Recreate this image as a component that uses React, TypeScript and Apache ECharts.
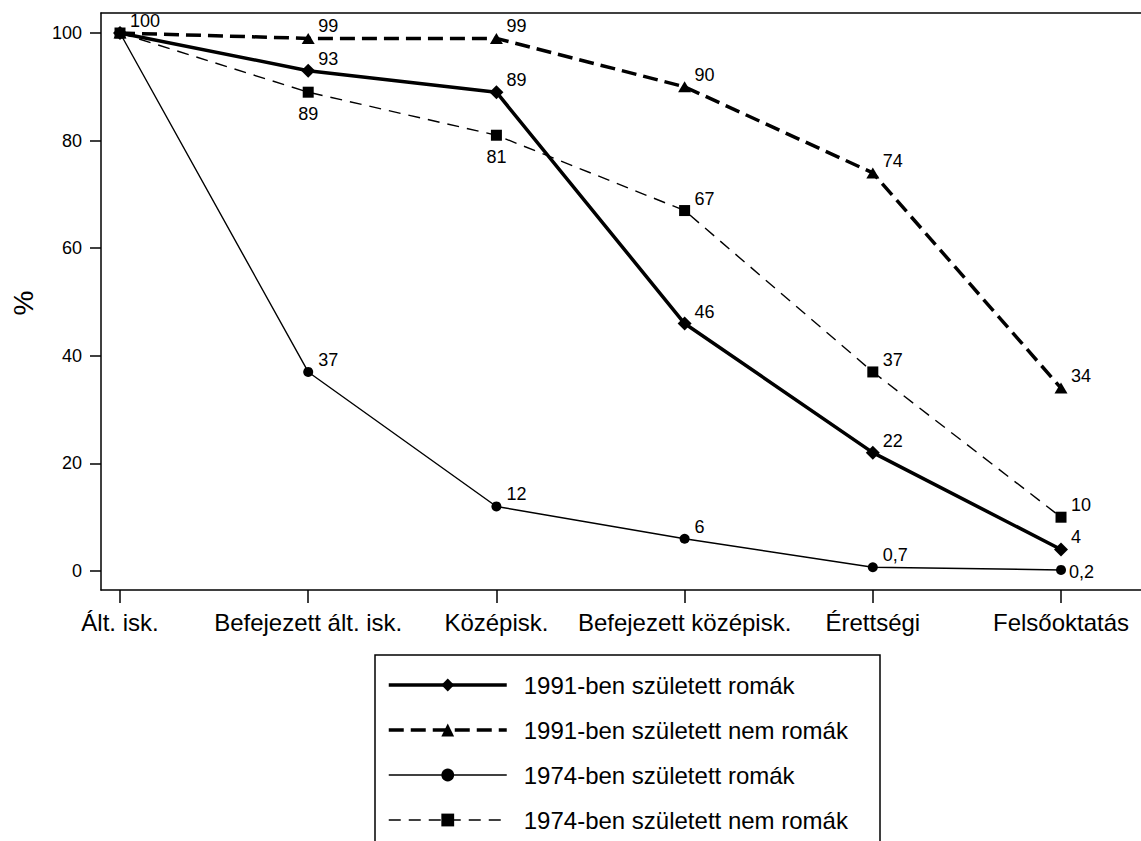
import React, { useEffect, useRef } from "react";
import * as echarts from "echarts";

const categories = ["Ált. isk.", "Befejezett ált. isk.", "Középisk.", "Befejezett középisk.", "Érettségi", "Felsőoktatás"];
const roma1991 = [100, 93, 89, 46, 22, 4];
const nonRoma1991 = [100, 99, 99, 90, 74, 34];
const roma1974 = [100, 37, 12, 6, 0.7, 0.2];
const nonRoma1974 = [100, 89, 81, 67, 37, 10];
const yTicks = [0, 20, 40, 60, 80, 100];
const seriesNames = [
  "1991-ben született romák",
  "1991-ben született nem romák",
  "1974-ben született romák",
  "1974-ben született nem romák",
];

const FONT = "Arial, 'Liberation Sans', Helvetica, sans-serif";

const STYLES = [
  { symbol: "diamond", size: 14 as any, width: 3.5, type: "solid" as any },
  { symbol: "triangle", size: [13, 11] as any, width: 3.5, type: [15, 7] as any },
  { symbol: "circle", size: 10 as any, width: 1.4, type: "solid" as any },
  { symbol: "rect", size: 11 as any, width: 1.4, type: [12, 8] as any },
];

function fmt(v: number) {
  return String(v).replace(".", ",");
}

function buildData(values: number[], opts: { hide?: number[]; below?: number[]; right?: number[] }) {
  return values.map((v, i) => {
    const item: any = { value: [i, v] };
    if (opts.hide && opts.hide.includes(i)) {
      item.label = { show: false };
    } else if (opts.below && opts.below.includes(i)) {
      item.label = { show: true, align: "center", offset: [0, 22] };
    } else if (opts.right && opts.right.includes(i)) {
      item.label = { show: true, align: "left", offset: [8, 2] };
    }
    return item;
  });
}

export default function App() {
  const ref = useRef<HTMLDivElement>(null);
  useEffect(() => {
    if (!ref.current) return;
    const chart = echarts.init(ref.current, undefined, { renderer: "svg" });
    const labelBase = {
      show: true,
      position: "inside",
      align: "left",
      verticalAlign: "middle",
      offset: [10, -12],
      color: "#000",
      fontSize: 18,
      fontFamily: FONT,
      formatter: (p: any) => fmt(p.value[1]),
    };
    const xMin = -0.101;
    const xMax = 5.425;
    const dataSets = [
      buildData(roma1991, {}),
      buildData(nonRoma1991, { hide: [0] }),
      buildData(roma1974, { hide: [0], right: [5] }),
      buildData(nonRoma1974, { hide: [0], below: [1, 2] }),
    ];
    const option: any = {
      animation: false,
      backgroundColor: "#fff",
      grid: { left: 101, right: 0, top: 13, bottom: 251, containLabel: false },
      xAxis: [
        {
          type: "value",
          min: xMin,
          max: xMax,
          position: "bottom",
          axisLine: { show: true, onZero: false, lineStyle: { color: "#000", width: 1.5 } },
          axisTick: { show: true, length: 13, customValues: [0, 1, 2, 3, 4, 5], lineStyle: { color: "#000", width: 1.5 } },
          axisLabel: {
            show: true,
            customValues: [0, 1, 2, 3, 4, 5],
            formatter: (v: number) => categories[Math.round(v)] ?? "",
            color: "#000",
            fontSize: 24,
            fontFamily: FONT,
            margin: 20,
          },
          splitLine: { show: false },
        },
        {
          type: "value",
          min: xMin,
          max: xMax,
          position: "top",
          axisLine: { show: true, onZero: false, lineStyle: { color: "#000", width: 1.5 } },
          axisTick: { show: false },
          axisLabel: { show: false },
          splitLine: { show: false },
        },
      ],
      yAxis: {
        type: "value",
        min: -3.53,
        max: 103.72,
        axisLine: { show: true, onZero: false, lineStyle: { color: "#000", width: 1.5 } },
        axisTick: { show: true, length: 11, customValues: yTicks, lineStyle: { color: "#000", width: 1.5 } },
        axisLabel: {
          show: true,
          customValues: yTicks,
          color: "#000",
          fontSize: 18,
          fontFamily: FONT,
          margin: 19,
        },
        splitLine: { show: false },
      },
      legend: {
        show: true,
        orient: "vertical",
        left: 387,
        top: 673,
        padding: 0,
        itemWidth: 118,
        itemHeight: 16,
        itemGap: 21,
        textStyle: { color: "#000", fontSize: 24, fontFamily: FONT, lineHeight: 24, padding: [0, 0, 0, 12] },
        data: seriesNames.map((name, i) => ({
          name,
          lineStyle: { color: "#000", width: STYLES[i].width, type: STYLES[i].type },
          itemStyle: { color: "#000" },
        })),
      },
      graphic: [
        {
          type: "rect",
          shape: { x: 375, y: 655, width: 505, height: 220 },
          style: { fill: "none", stroke: "#000", lineWidth: 1.5 },
          silent: true,
        },
        {
          type: "text",
          x: 23,
          y: 303,
          rotation: Math.PI / 2,
          style: { text: "%", fill: "#000", fontSize: 28, fontFamily: FONT, align: "center", verticalAlign: "middle" },
        },
      ],
      series: seriesNames.map((name, i) => ({
        name,
        type: "line",
        data: dataSets[i],
        symbol: STYLES[i].symbol,
        symbolSize: STYLES[i].size,
        lineStyle: { color: "#000", width: STYLES[i].width, type: STYLES[i].type },
        itemStyle: { color: "#000" },
        label: labelBase,
        z: 4 - Math.min(i, 2),
      })),
    };
    chart.setOption(option);
    return () => chart.dispose();
  }, []);
  return (
    <div
      ref={ref}
      style={{ position: "fixed", left: 0, top: 0, width: 1141, height: 841, background: "#fff" }}
    />
  );
}
